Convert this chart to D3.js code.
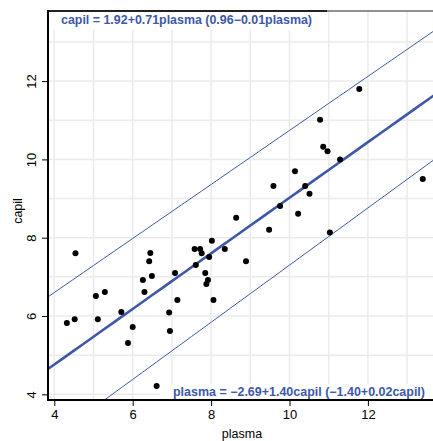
<!DOCTYPE html>
<html><head><meta charset="utf-8">
<script src="https://cdn.jsdelivr.net/npm/d3@7"></script>
<style>body{margin:0;background:#fff}svg{display:block}text{font-family:"Liberation Sans",Arial,sans-serif}</style>
</head><body><svg id="c" width="433" height="441"></svg>
<script>
const plasma = [4.32,4.52,4.54,5.06,5.11,5.29,5.71,5.88,6.00,6.26,6.30,6.42,6.45,6.49,6.61,6.93,6.95,7.08,7.14,7.58,7.61,7.72,7.76,7.85,7.88,7.92,7.95,8.02,8.06,8.35,8.64,8.89,9.48,9.59,9.76,10.14,10.22,10.40,10.51,10.78,10.86,10.97,11.03,11.29,11.78,13.40];
const capil  = [5.82,5.92,7.60,6.51,5.92,6.61,6.10,5.31,5.72,6.92,6.61,7.40,7.61,7.02,4.21,6.09,5.62,7.10,6.41,7.71,7.30,7.71,7.60,7.10,6.82,6.92,7.51,7.92,6.41,7.71,8.51,7.40,8.20,9.32,8.81,9.70,8.61,9.32,9.12,11.01,10.32,10.21,8.13,10.00,11.80,9.50];
const fitCoef = [1.92, 0.71];      // capil = a + b*plasma
const sdCoef = [0.96, -0.01];      // residual sd = c + d*plasma
const xTicks = [4,6,8,10,12];
const yTicks = [4,6,8,10,12];
const gridVals = [3,4,5,6,7,8,9,10,11,12,13,14];
const labelTop = "capil = 1.92+0.71plasma (0.96\u22120.01plasma)";
const labelBottom = "plasma = \u22122.69+1.40capil (\u22121.40+0.02capil)";

const blue = "#3d58a8";
const L = 48, R = 440, T = 11, B = 400;
const x = d3.scaleLinear().domain([4,12]).range([54.3,367.9]);
const y = d3.scaleLinear().domain([4,12]).range([394.3,81.1]);
const svg = d3.select("#c");
svg.append("defs").append("clipPath").attr("id","clip")
  .append("rect").attr("x",L).attr("y",T).attr("width",R-L).attr("height",B-T);
const g = svg.append("g").attr("clip-path","url(#clip)");

// grid
g.selectAll(".gv").data(gridVals).join("line")
  .attr("x1",d=>x(d)).attr("x2",d=>x(d)).attr("y1",T).attr("y2",B)
  .attr("stroke","#ebebeb").attr("stroke-width",1.5);
g.selectAll(".gh").data(gridVals).join("line")
  .attr("y1",d=>y(d)).attr("y2",d=>y(d)).attr("x1",L).attr("x2",R)
  .attr("stroke","#ebebeb").attr("stroke-width",1.5);

// lines
const xs = d3.range(3.5, 14.01, 0.25);
const fit = p => fitCoef[0] + fitCoef[1]*p;
const sd = p => sdCoef[0] + sdCoef[1]*p;
const line = d3.line().x(d=>x(d[0])).y(d=>y(d[1]));
g.append("path").datum(xs.map(p=>[p, fit(p)+2*sd(p)])).attr("d",line)
  .attr("fill","none").attr("stroke",blue).attr("stroke-width",1);
g.append("path").datum(xs.map(p=>[p, fit(p)-2*sd(p)])).attr("d",line)
  .attr("fill","none").attr("stroke",blue).attr("stroke-width",1);
g.append("path").datum(xs.map(p=>[p, fit(p)])).attr("d",line)
  .attr("fill","none").attr("stroke",blue).attr("stroke-width",2.6);

// points
g.selectAll("circle").data(plasma.map((p,i)=>[p,capil[i]])).join("circle")
  .attr("cx",d=>x(d[0])).attr("cy",d=>y(d[1])).attr("r",3).attr("fill","#000");

// label boxes
svg.append("rect").attr("x",L+1).attr("y",T).attr("width",327-L).attr("height",19).attr("fill","#fff");
svg.append("rect").attr("x",160).attr("y",384).attr("width",280).attr("height",16).attr("fill","#fff");
svg.append("text").attr("x",61).attr("y",23.5).attr("font-size",12).attr("font-weight","bold")
  .attr("fill",blue).attr("textLength",251).attr("lengthAdjust","spacingAndGlyphs").text(labelTop);
svg.append("text").attr("x",173).attr("y",396).attr("font-size",12).attr("font-weight","bold")
  .attr("fill",blue).attr("textLength",252).attr("lengthAdjust","spacingAndGlyphs").text(labelBottom);

// frame
svg.append("line").attr("x1",L).attr("x2",327).attr("y1",T).attr("y2",T).attr("stroke","#222").attr("stroke-width",2);
svg.append("line").attr("x1",327).attr("x2",R).attr("y1",T).attr("y2",T).attr("stroke","#222").attr("stroke-width",1);

// axes
const font = "Liberation Sans, Arial, sans-serif";
const xa = svg.append("g").attr("transform",`translate(0,${B})`)
  .call(d3.axisBottom(x).tickValues(xTicks).tickSize(6).tickPadding(4).tickFormat(d3.format("d")));
xa.select(".domain").remove();
xa.selectAll("line").attr("stroke","#000").attr("stroke-width",1);
xa.selectAll("text").attr("font-size",13).attr("fill","#000").attr("font-family",font);
const ya = svg.append("g").attr("transform",`translate(${L},0)`)
  .call(d3.axisLeft(y).tickValues(yTicks).tickSize(6).tickPadding(4).tickFormat(d3.format("d")));
ya.select(".domain").remove();
ya.selectAll("line").attr("stroke","#000").attr("stroke-width",1);
ya.selectAll(".tick text").attr("font-size",13).attr("fill","#000").attr("font-family",font)
  .attr("text-anchor","middle").attr("x",null).attr("dy","0.35em")
  .attr("transform","translate(-17,0) rotate(-90)");

svg.append("line").attr("x1",L).attr("x2",L).attr("y1",T-1).attr("y2",B+1).attr("stroke","#000").attr("stroke-width",2);
svg.append("line").attr("x1",L-1).attr("x2",R).attr("y1",B).attr("y2",B).attr("stroke","#000").attr("stroke-width",2);

svg.append("text").attr("x",242).attr("y",438).attr("text-anchor","middle").attr("font-size",12.5).text("plasma");
svg.append("text").attr("transform","translate(22,211) rotate(-90)").attr("text-anchor","middle").attr("font-size",12.5).text("capil");
</script></body></html>
